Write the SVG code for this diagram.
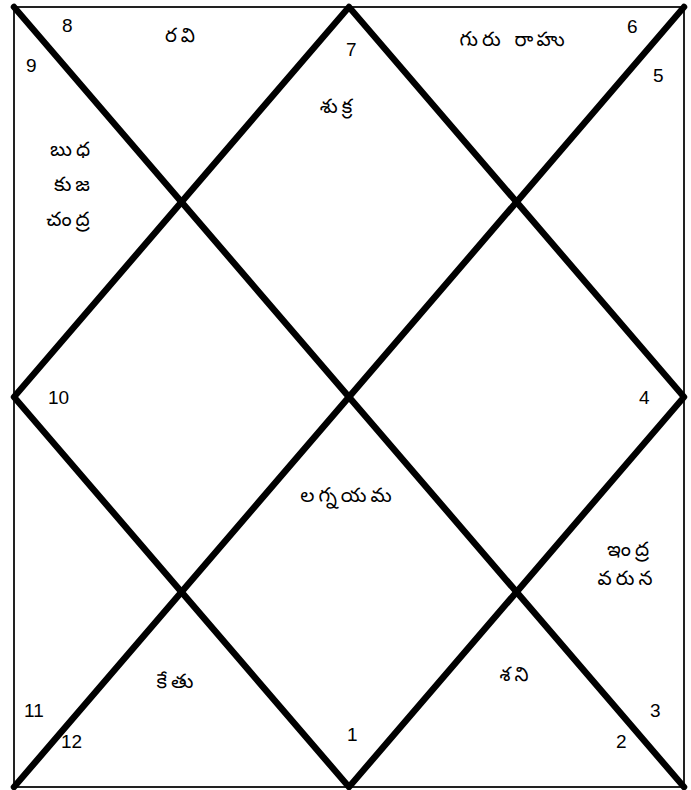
<svg xmlns="http://www.w3.org/2000/svg" width="691" height="790" viewBox="0 0 691 790">
<style>
.frame{fill:#fff;stroke:#222;stroke-width:2}
.thick{fill:none;stroke:#000;stroke-width:6.5;stroke-linecap:round;stroke-linejoin:round}
.num{font-family:"Liberation Sans",Arial,sans-serif;font-size:19px;fill:#000}
.tel{font-family:"Noto Sans Telugu","Noto Sans","Liberation Sans",sans-serif;font-size:20px;fill:#000;text-anchor:middle;letter-spacing:4px}
</style>
<rect x="0" y="0" width="691" height="790" fill="#fff"/>
<g id="connectors">
<rect class="frame" x="14" y="7" width="670" height="780"/>
<line class="thick" x1="14" y1="7" x2="684" y2="787"/>
<line class="thick" x1="684" y1="7" x2="14" y2="787"/>
<polygon class="thick" points="349,7 684,397 349,787 14,397"/>
</g>
<g id="house1"><text class="num" x="347" y="741">1</text><text class="tel" x="348" y="502">లగ్నయమ</text></g>
<g id="house2"><text class="num" x="616" y="748">2</text><text class="tel" x="516" y="681">శని</text></g>
<g id="house3"><text class="num" x="650" y="717">3</text><text class="tel" x="630" y="556">ఇంద్ర</text><text class="tel" x="627" y="585">వరున</text></g>
<g id="house4"><text class="num" x="639" y="404">4</text></g>
<g id="house5"><text class="num" x="653" y="82">5</text></g>
<g id="house6"><text class="num" x="627" y="33">6</text><text class="tel" x="514" y="46">గురు  రాహు</text></g>
<g id="house7"><text class="num" x="346" y="56">7</text><text class="tel" x="338" y="113">శుక్ర</text></g>
<g id="house8"><text class="num" x="62" y="32">8</text><text class="tel" x="182" y="42">రవి</text></g>
<g id="house9"><text class="num" x="26" y="72">9</text><text class="tel" x="72" y="156">బుధ</text><text class="tel" x="74" y="191">కుజ</text><text class="tel" x="70" y="226">చంద్ర</text></g>
<g id="house10"><text class="num" x="48" y="404">10</text></g>
<g id="house11"><text class="num" x="24" y="717">11</text></g>
<g id="house12"><text class="num" x="61" y="748">12</text><text class="tel" x="177" y="688">కేతు</text></g>
</svg>
